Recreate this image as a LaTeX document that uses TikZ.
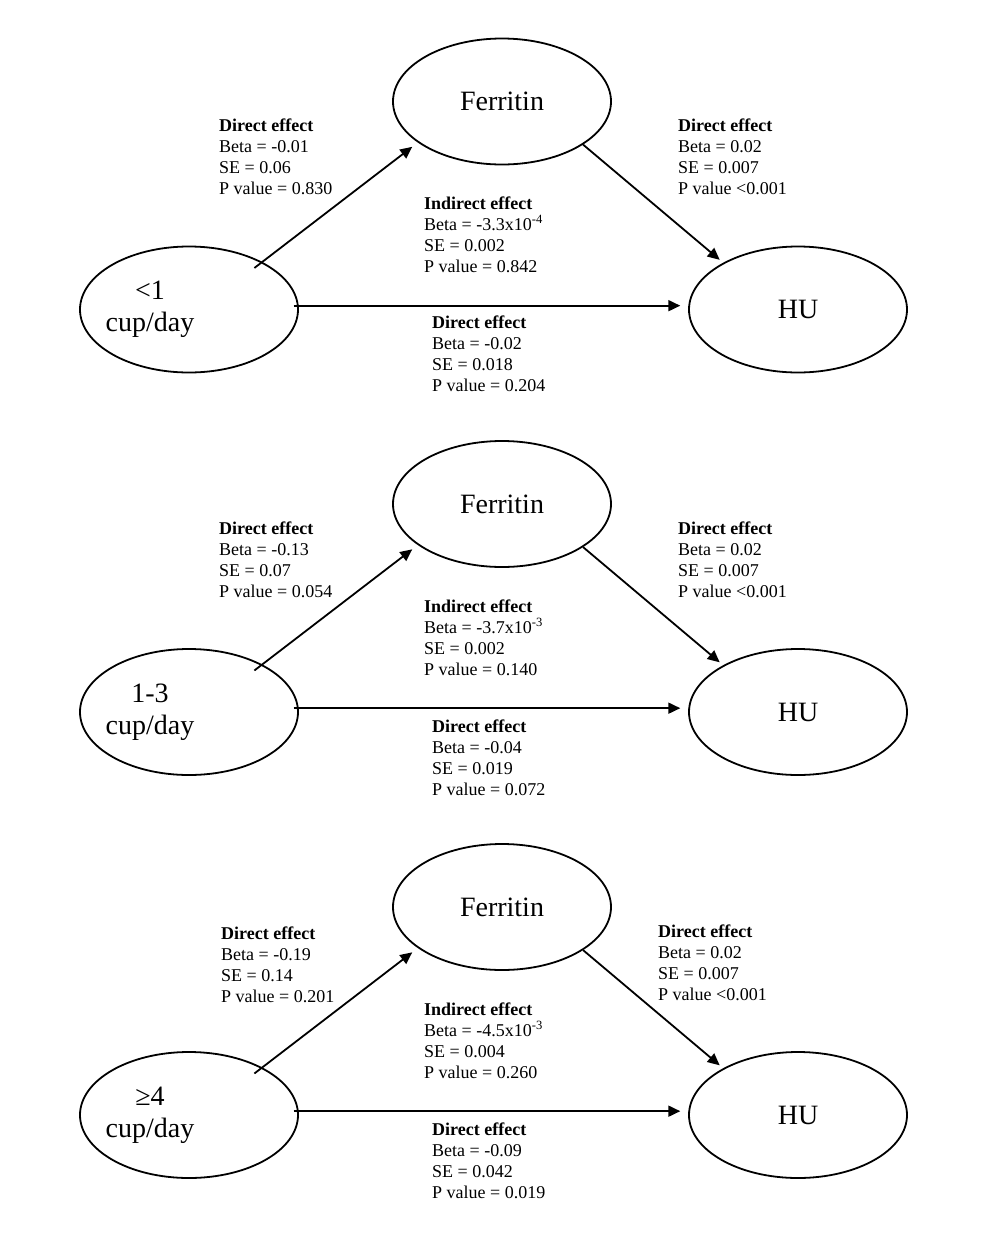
\documentclass[tikz,border=0pt]{standalone}
\usepackage{fontspec}
\setmainfont{Liberation Serif}
\usetikzlibrary{arrows.meta,shapes.geometric}
\newcommand\mylines[1]{\begin{tabular}[t]{@{}l@{}}#1\end{tabular}}
\begin{document}
\begin{tikzpicture}[x=1bp,y=-1bp,
  ell/.style={draw, ellipse, line width=1.8bp, minimum width=218bp, minimum height=126bp, inner sep=0pt, font=\fontsize{28bp}{32bp}\selectfont},
  big/.style={inner sep=0pt, align=center, font=\fontsize{28bp}{32bp}\selectfont},
  lbl/.style={inner sep=0pt, anchor=base west, font=\fontsize{18bp}{21bp}\selectfont},
  arr/.style={line width=1.8bp, -{Triangle[length=12bp,width=11bp]}}
]
\fill[white] (0,0) rectangle (986,1241);
\useasboundingbox (0,0) rectangle (986,1241);

% ---------- Panel 1 ----------
\node[ell] (F1) at (502,101.5) {Ferritin};
\node[ell] (L1) at (189,309.5) {};
\node[big] (L1t) at (150,309.5) {<1\\cup/day};
\node[ell] (H1) at (798,309.5) {HU};
\draw[arr, shorten <=-10bp, shorten >=7bp] (L1.33) -- (F1.206.5);
\draw[arr, shorten <=-5bp, shorten >=8bp] (L1.2) -- (H1.178);
\draw[arr, shorten >=4.5bp] (F1.332.8) -- (H1.148.1);
\node[lbl] (a1) at (219,131) {\mylines{\textbf{Direct effect}\\Beta = -0.01\\SE = 0.06\\P value = 0.830}};
\node[lbl] (b1) at (678,131) {\mylines{\textbf{Direct effect}\\Beta = 0.02\\SE = 0.007\\P value <0.001}};
\node[lbl] (i1) at (424,209) {\mylines{\textbf{Indirect effect}\\Beta = -3.3x10\textsuperscript{-4}\\SE = 0.002\\P value = 0.842}};
\node[lbl] (c1) at (432,328) {\mylines{\textbf{Direct effect}\\Beta = -0.02\\SE = 0.018\\P value = 0.204}};

% ---------- Panel 2 ----------
\node[ell] (F2) at (502,504) {Ferritin};
\node[ell] (L2) at (189,712) {};
\node[big] (L2t) at (150,712) {1-3\\cup/day};
\node[ell] (H2) at (798,712) {HU};
\draw[arr, shorten <=-10bp, shorten >=7bp] (L2.33) -- (F2.206.5);
\draw[arr, shorten <=-5bp, shorten >=8bp] (L2.2) -- (H2.178);
\draw[arr, shorten >=4.5bp] (F2.332.8) -- (H2.148.1);
\node[lbl] (a2) at (219,534) {\mylines{\textbf{Direct effect}\\Beta = -0.13\\SE = 0.07\\P value = 0.054}};
\node[lbl] (b2) at (678,534) {\mylines{\textbf{Direct effect}\\Beta = 0.02\\SE = 0.007\\P value <0.001}};
\node[lbl] (i2) at (424,612) {\mylines{\textbf{Indirect effect}\\Beta = -3.7x10\textsuperscript{-3}\\SE = 0.002\\P value = 0.140}};
\node[lbl] (c2) at (432,732) {\mylines{\textbf{Direct effect}\\Beta = -0.04\\SE = 0.019\\P value = 0.072}};

% ---------- Panel 3 ----------
\node[ell] (F3) at (502,907) {Ferritin};
\node[ell] (L3) at (189,1115) {};
\node[big] (L3t) at (150,1115) {≥4\\cup/day};
\node[ell] (H3) at (798,1115) {HU};
\draw[arr, shorten <=-10bp, shorten >=7bp] (L3.33) -- (F3.206.5);
\draw[arr, shorten <=-5bp, shorten >=8bp] (L3.2) -- (H3.178);
\draw[arr, shorten >=4.5bp] (F3.332.8) -- (H3.148.1);
\node[lbl] (a3) at (221,939) {\mylines{\textbf{Direct effect}\\Beta = -0.19\\SE = 0.14\\P value = 0.201}};
\node[lbl] (b3) at (658,937) {\mylines{\textbf{Direct effect}\\Beta = 0.02\\SE = 0.007\\P value <0.001}};
\node[lbl] (i3) at (424,1015) {\mylines{\textbf{Indirect effect}\\Beta = -4.5x10\textsuperscript{-3}\\SE = 0.004\\P value = 0.260}};
\node[lbl] (c3) at (432,1135) {\mylines{\textbf{Direct effect}\\Beta = -0.09\\SE = 0.042\\P value = 0.019}};
\end{tikzpicture}
\end{document}
